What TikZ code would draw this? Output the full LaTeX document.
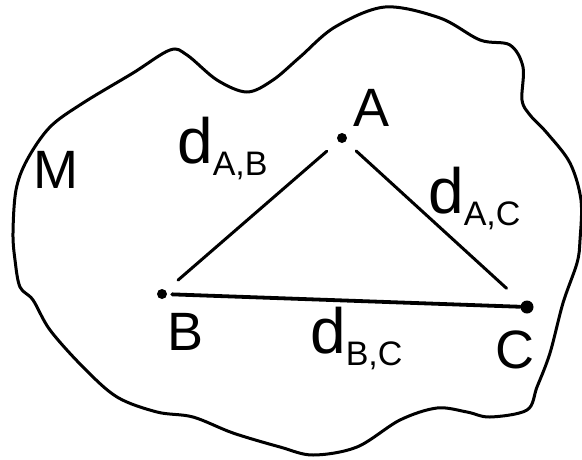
\documentclass[tikz,border=0pt]{standalone}
\usepackage{fontspec}
\setmainfont{Liberation Sans}
\usetikzlibrary{positioning}

\newcommand{\dlab}[1]{{\fontsize{64}{64}\selectfont d}\raisebox{-12pt}{\fontsize{34}{34}\selectfont #1}}

\begin{document}
\begin{tikzpicture}[x=1pt, y=-1pt]
        \tikzstyle{dot} = [circle, fill=black, inner sep=0pt, minimum size=10pt]
        \tikzstyle{letter} = [inner sep=0pt, font=\fontsize{54}{54}\selectfont]
        \tikzstyle{dist} = [inner sep=0pt, anchor=base west]
        \tikzstyle{edge} = [line width=3pt, line cap=round]
        \tikzstyle{outline} = [line width=3pt, line join=round]

        \useasboundingbox (0,0) rectangle (582,459);

        % the set M
        \draw [outline] plot [smooth cycle, tension=0.55] coordinates {
            (13,233) (16,190) (27,160) (50,127) (83,103) (133,73) (170,50)
            (187,55) (217,80) (247,92) (273,80) (300,57) (335,27) (385,7)
            (440,18) (480,40) (510,45) (523,67) (522,100) (530,115) (547,133)
            (570,163) (581,200) (580,240) (577,263) (563,303) (550,353)
            (537,387) (527,410) (490,417) (467,412) (437,408) (400,420)
            (357,447) (313,455) (280,447) (233,433) (193,417) (157,412)
            (117,397) (83,367) (50,330) (33,300) (20,287) (15,260)};

        \node (a) [dot] at (342,138) {};
        \node (b) [dot] at (162,294) {};
        \node (c) [dot, minimum size=13pt] at (527,307) {};

        \node (la) [letter] at (372,108) {A};
        \node (lb) [letter] at (186,332) {B};
        \node (lc) [letter] at (515,350) {C};
        \node (lm) [letter] at (56,170) {M};

        \node (dab) [dist] at (177,163) {\dlab{A,B}};
        \node (dac) [dist] at (428,213) {\dlab{A,C}};
        \node (dbc) [dist] at (310,353) {\dlab{B,C}};

        \draw [edge, shorten <=15pt, shorten >=16pt] (a) -- (b);
        \draw [edge, shorten <=14pt, shorten >=21pt] (a) -- (c);
        \draw [edge, line width=3.8pt, shorten <=5pt] (b) -- (c);
    \end{tikzpicture}
\end{document}
